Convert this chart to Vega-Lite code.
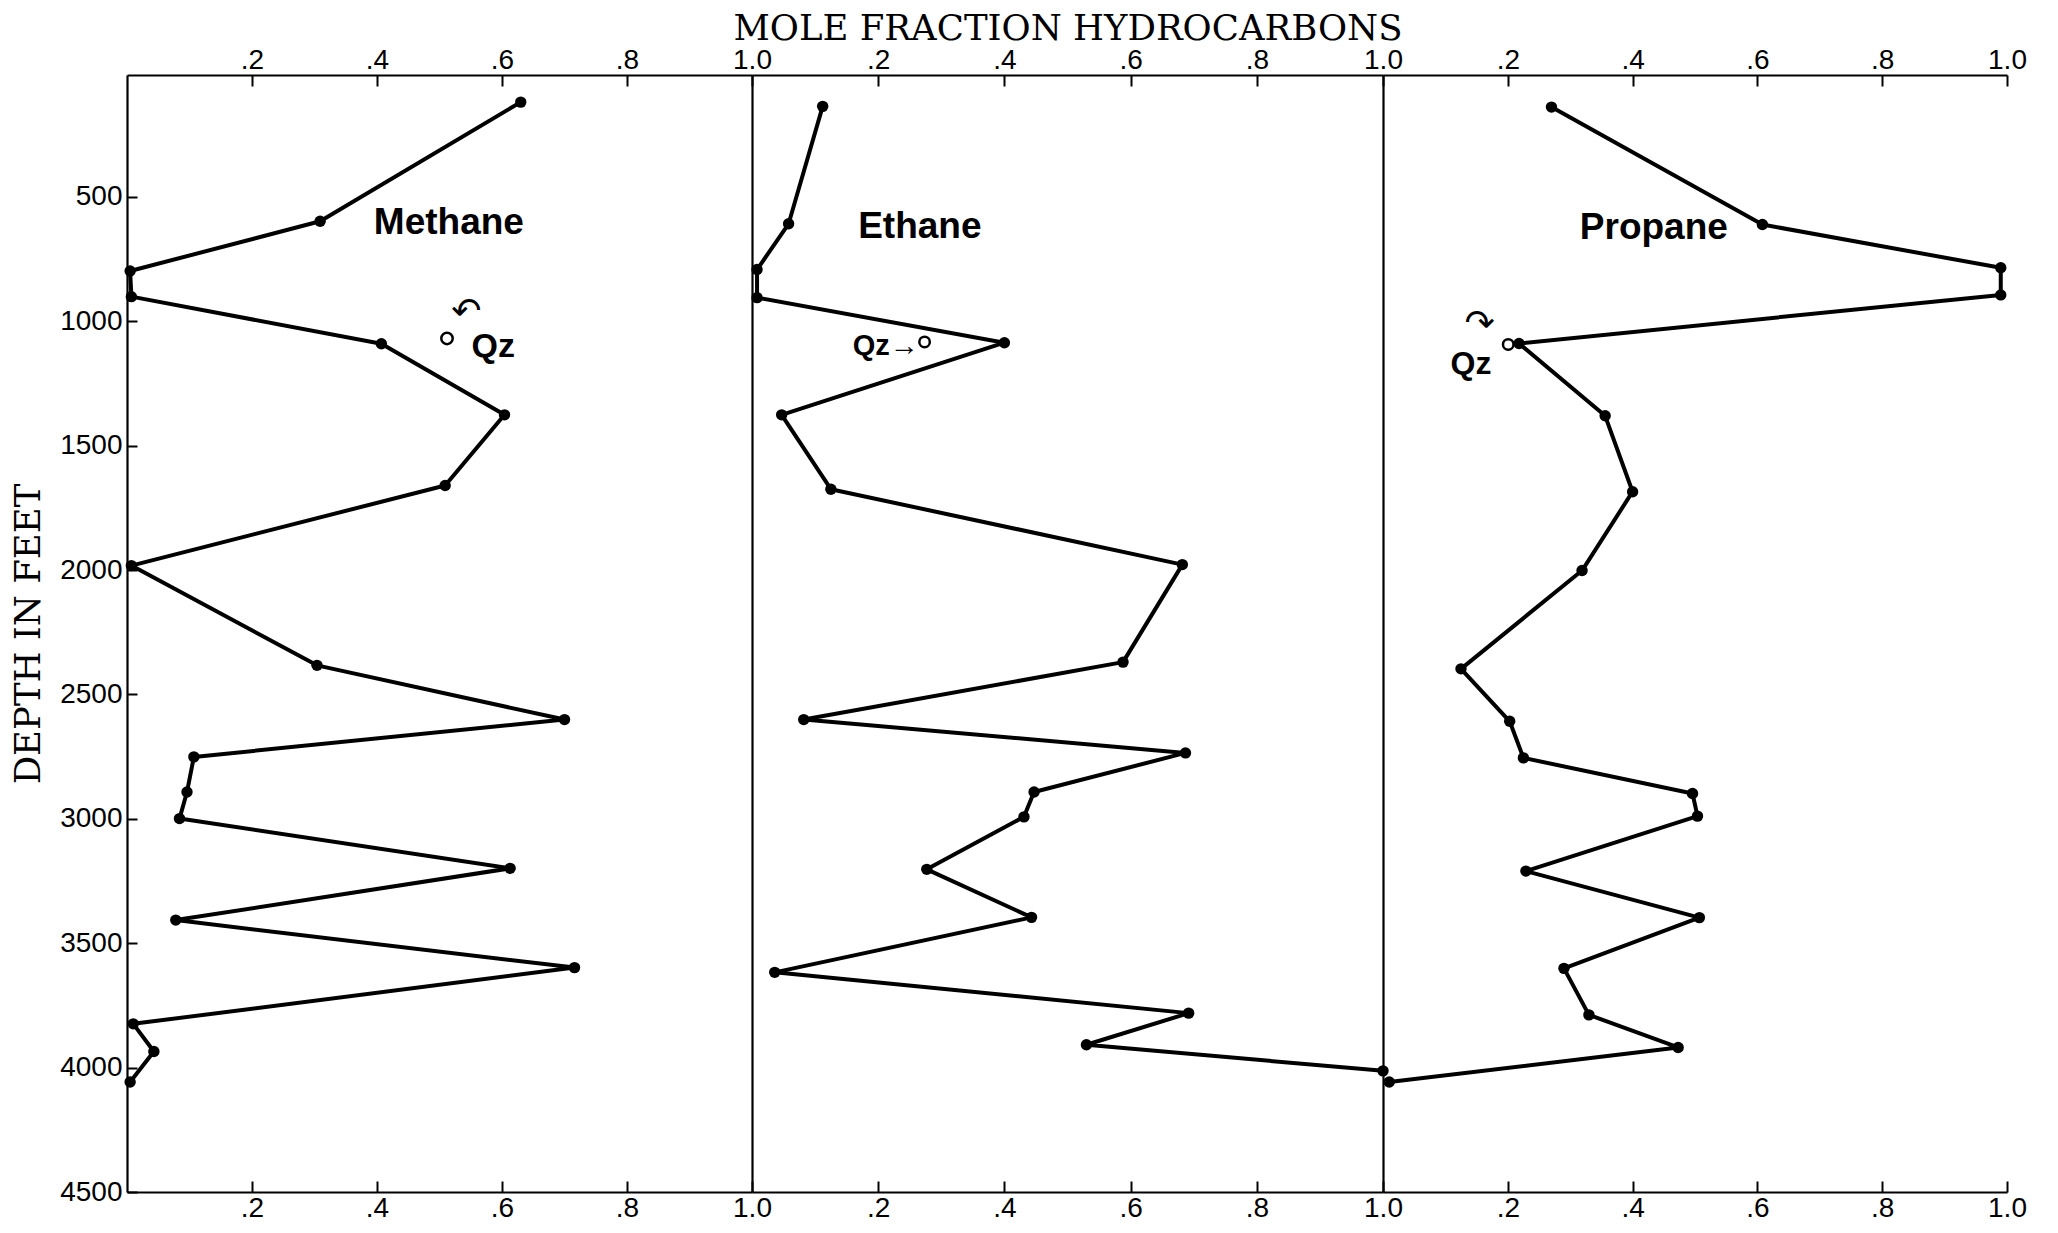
{
  "$schema": "https://vega.github.io/schema/vega-lite/v6.json",
  "background": "white",
  "padding": {"left": 11, "top": 11, "right": 5, "bottom": 0},
  "spacing": 0,
  "bounds": "flush",
  "config": {
    "view": {"stroke": null},
    "axis": {
      "grid": false,
      "domainColor": "black",
      "domainWidth": 2.2,
      "tickColor": "black",
      "tickWidth": 2,
      "labelFont": "Liberation Sans",
      "labelFontSize": 28,
      "labelColor": "black",
      "titleFont": "DejaVu Serif",
      "titleFontSize": 35.5,
      "titleFontWeight": "normal",
      "titleColor": "black"
    }
  },
  "datasets": {
    "profiles": [
      {"gas": "Methane", "fraction": 0.63, "depth": 119},
      {"gas": "Methane", "fraction": 0.309, "depth": 598},
      {"gas": "Methane", "fraction": 0.005, "depth": 798},
      {"gas": "Methane", "fraction": 0.007, "depth": 901},
      {"gas": "Methane", "fraction": 0.407, "depth": 1090},
      {"gas": "Methane", "fraction": 0.604, "depth": 1376},
      {"gas": "Methane", "fraction": 0.509, "depth": 1660},
      {"gas": "Methane", "fraction": 0.007, "depth": 1982},
      {"gas": "Methane", "fraction": 0.304, "depth": 2383},
      {"gas": "Methane", "fraction": 0.70, "depth": 2601},
      {"gas": "Methane", "fraction": 0.107, "depth": 2751},
      {"gas": "Methane", "fraction": 0.096, "depth": 2892},
      {"gas": "Methane", "fraction": 0.084, "depth": 2999},
      {"gas": "Methane", "fraction": 0.613, "depth": 3199},
      {"gas": "Methane", "fraction": 0.078, "depth": 3407},
      {"gas": "Methane", "fraction": 0.716, "depth": 3598},
      {"gas": "Methane", "fraction": 0.01, "depth": 3824},
      {"gas": "Methane", "fraction": 0.043, "depth": 3935},
      {"gas": "Methane", "fraction": 0.005, "depth": 4058},
      {"gas": "Ethane", "fraction": 0.112, "depth": 136},
      {"gas": "Ethane", "fraction": 0.058, "depth": 608},
      {"gas": "Ethane", "fraction": 0.008, "depth": 792},
      {"gas": "Ethane", "fraction": 0.008, "depth": 905},
      {"gas": "Ethane", "fraction": 0.40, "depth": 1086},
      {"gas": "Ethane", "fraction": 0.047, "depth": 1376},
      {"gas": "Ethane", "fraction": 0.125, "depth": 1675},
      {"gas": "Ethane", "fraction": 0.682, "depth": 1978},
      {"gas": "Ethane", "fraction": 0.588, "depth": 2370},
      {"gas": "Ethane", "fraction": 0.082, "depth": 2601},
      {"gas": "Ethane", "fraction": 0.687, "depth": 2735},
      {"gas": "Ethane", "fraction": 0.447, "depth": 2892},
      {"gas": "Ethane", "fraction": 0.431, "depth": 2992},
      {"gas": "Ethane", "fraction": 0.277, "depth": 3203},
      {"gas": "Ethane", "fraction": 0.443, "depth": 3396},
      {"gas": "Ethane", "fraction": 0.036, "depth": 3617},
      {"gas": "Ethane", "fraction": 0.692, "depth": 3781},
      {"gas": "Ethane", "fraction": 0.53, "depth": 3908},
      {"gas": "Ethane", "fraction": 1.0, "depth": 4013},
      {"gas": "Propane", "fraction": 0.27, "depth": 139},
      {"gas": "Propane", "fraction": 0.608, "depth": 611},
      {"gas": "Propane", "fraction": 0.99, "depth": 785},
      {"gas": "Propane", "fraction": 0.99, "depth": 894},
      {"gas": "Propane", "fraction": 0.218, "depth": 1089},
      {"gas": "Propane", "fraction": 0.356, "depth": 1380},
      {"gas": "Propane", "fraction": 0.40, "depth": 1685},
      {"gas": "Propane", "fraction": 0.319, "depth": 2002},
      {"gas": "Propane", "fraction": 0.125, "depth": 2397},
      {"gas": "Propane", "fraction": 0.203, "depth": 2608},
      {"gas": "Propane", "fraction": 0.225, "depth": 2755},
      {"gas": "Propane", "fraction": 0.496, "depth": 2898},
      {"gas": "Propane", "fraction": 0.504, "depth": 2989},
      {"gas": "Propane", "fraction": 0.229, "depth": 3210},
      {"gas": "Propane", "fraction": 0.507, "depth": 3397},
      {"gas": "Propane", "fraction": 0.29, "depth": 3601},
      {"gas": "Propane", "fraction": 0.33, "depth": 3788},
      {"gas": "Propane", "fraction": 0.473, "depth": 3919},
      {"gas": "Propane", "fraction": 0.01, "depth": 4058}
    ],
    "qz": [
      {"gas": "Methane", "fraction": 0.512, "depth": 1069},
      {"gas": "Ethane", "fraction": 0.2735, "depth": 1083},
      {"gas": "Propane", "fraction": 0.2007, "depth": 1093}
    ],
    "notes": [
      {"gas": "Methane", "kind": "name", "label": "Methane", "fraction": 0.515, "depth": 604},
      {"gas": "Methane", "kind": "qz", "label": "Qz", "fraction": 0.586, "depth": 1104},
      {"gas": "Methane", "kind": "arrow", "label": "↶", "fraction": 0.543, "depth": 962},
      {"gas": "Ethane", "kind": "name", "label": "Ethane", "fraction": 0.266, "depth": 622},
      {"gas": "Ethane", "kind": "qz", "label": "Qz→", "fraction": 0.212, "depth": 1098},
      {"gas": "Propane", "kind": "name", "label": "Propane", "fraction": 0.434, "depth": 626},
      {"gas": "Propane", "kind": "qz", "label": "Qz", "fraction": 0.141, "depth": 1170},
      {"gas": "Propane", "kind": "arrow", "label": "↷", "fraction": 0.155, "depth": 1012}
    ]
  },
  "hconcat": [
    {
      "width": 625,
      "height": 1117,
      "encoding": {
        "y": {"field": "depth", "type": "quantitative", "scale": {"domain": [10, 4500], "nice": false, "zero": false, "reverse": true},
          "axis": {"orient": "left", "values": [500, 1000, 1500, 2000, 2500, 3000, 3500, 4000, 4500], "format": "d", "title": "DEPTH IN FEET", "titlePadding": 13, "tickSize": -10, "labelPadding": 15, "labelOverlap": false, "labelBound": false, "labelFlush": false}}
      },
      "layer": [
        {
          "data": {"name": "profiles"},
          "transform": [{"filter": "datum.gas === 'Methane'"}],
          "mark": {"type": "line", "color": "black", "strokeWidth": 4, "strokeJoin": "round", "point": {"filled": true, "color": "black", "size": 130, "opacity": 1}},
          "encoding": {
            "x": {"field": "fraction", "type": "quantitative", "scale": {"domain": [0, 1], "nice": false, "zero": false},
              "axis": {"orient": "bottom", "values": [0.2, 0.4, 0.6, 0.8, 1], "labelExpr": "datum.value >= 0.99 ? '1.0' : replace(format(datum.value, '.1f'), '0.', '.')", "title": null, "tickSize": -11, "labelPadding": 13, "labelFlush": false, "labelOverlap": false, "labelBound": false}},
            "order": {"field": "depth", "type": "quantitative"}
          }
        },
        {
          "data": {"name": "qz"},
          "transform": [{"filter": "datum.gas === 'Methane'"}],
          "mark": {"type": "point", "shape": "circle", "filled": false, "stroke": "black", "strokeWidth": 2.5, "size": 130, "opacity": 1},
          "encoding": {
            "x": {"field": "fraction", "type": "quantitative", "scale": {"domain": [0, 1], "nice": false, "zero": false},
              "axis": {"orient": "top", "values": [0.2, 0.4, 0.6, 0.8, 1], "labelExpr": "datum.value >= 0.99 ? '1.0' : replace(format(datum.value, '.1f'), '0.', '.')", "title": null, "tickSize": -11, "labelPadding": 12, "labelFlush": false, "labelOverlap": false, "labelBound": false}}
          }
        },
        {
          "data": {"name": "notes"},
          "transform": [{"filter": "datum.gas === 'Methane' && datum.kind === 'name'"}],
          "mark": {"type": "text", "font": "Liberation Sans", "fontWeight": "bold", "fontSize": 37, "color": "black", "align": "center", "baseline": "middle"},
          "encoding": {
            "x": {"field": "fraction", "type": "quantitative", "scale": {"domain": [0, 1], "nice": false, "zero": false}, "axis": null},
            "text": {"field": "label"}
          }
        },
        {
          "data": {"name": "notes"},
          "transform": [{"filter": "datum.gas === 'Methane' && datum.kind === 'qz'"}],
          "mark": {"type": "text", "font": "Liberation Sans", "fontWeight": "bold", "fontSize": 34, "color": "black", "align": "center", "baseline": "middle"},
          "encoding": {
            "x": {"field": "fraction", "type": "quantitative", "scale": {"domain": [0, 1], "nice": false, "zero": false}, "axis": null},
            "text": {"field": "label"}
          }
        },
        {
          "data": {"name": "notes"},
          "transform": [{"filter": "datum.gas === 'Methane' && datum.kind === 'arrow'"}],
          "mark": {"type": "text", "font": "DejaVu Sans", "fontSize": 36, "color": "black", "align": "center", "baseline": "middle"},
          "encoding": {
            "x": {"field": "fraction", "type": "quantitative", "scale": {"domain": [0, 1], "nice": false, "zero": false}, "axis": null},
            "text": {"field": "label"}
          }
        }
      ]
    },
    {
      "width": 631,
      "height": 1117,
      "encoding": {
        "y": {"field": "depth", "type": "quantitative", "scale": {"domain": [10, 4500], "nice": false, "zero": false, "reverse": true},
          "axis": {"orient": "left", "labels": false, "ticks": false, "title": null}}
      },
      "layer": [
        {
          "data": {"name": "profiles"},
          "transform": [{"filter": "datum.gas === 'Ethane'"}],
          "mark": {"type": "line", "color": "black", "strokeWidth": 4, "strokeJoin": "round", "point": {"filled": true, "color": "black", "size": 130, "opacity": 1}},
          "encoding": {
            "x": {"field": "fraction", "type": "quantitative", "scale": {"domain": [0, 1], "nice": false, "zero": false},
              "axis": {"orient": "bottom", "values": [0.2, 0.4, 0.6, 0.8, 1], "labelExpr": "datum.value >= 0.99 ? '1.0' : replace(format(datum.value, '.1f'), '0.', '.')", "title": null, "tickSize": -11, "labelPadding": 13, "labelFlush": false, "labelOverlap": false, "labelBound": false}},
            "order": {"field": "depth", "type": "quantitative"}
          }
        },
        {
          "data": {"name": "qz"},
          "transform": [{"filter": "datum.gas === 'Ethane'"}],
          "mark": {"type": "point", "shape": "circle", "filled": false, "stroke": "black", "strokeWidth": 2.5, "size": 110, "opacity": 1},
          "encoding": {
            "x": {"field": "fraction", "type": "quantitative", "scale": {"domain": [0, 1], "nice": false, "zero": false},
              "axis": {"orient": "top", "values": [0.2, 0.4, 0.6, 0.8, 1], "labelExpr": "datum.value >= 0.99 ? '1.0' : replace(format(datum.value, '.1f'), '0.', '.')", "title": "MOLE FRACTION HYDROCARBONS", "titlePadding": 0, "tickSize": -11, "labelPadding": 12, "labelFlush": false, "labelOverlap": false, "labelBound": false}}
          }
        },
        {
          "data": {"name": "notes"},
          "transform": [{"filter": "datum.gas === 'Ethane' && datum.kind === 'name'"}],
          "mark": {"type": "text", "font": "Liberation Sans", "fontWeight": "bold", "fontSize": 37, "color": "black", "align": "center", "baseline": "middle"},
          "encoding": {
            "x": {"field": "fraction", "type": "quantitative", "scale": {"domain": [0, 1], "nice": false, "zero": false}, "axis": null},
            "text": {"field": "label"}
          }
        },
        {
          "data": {"name": "notes"},
          "transform": [{"filter": "datum.gas === 'Ethane' && datum.kind === 'qz'"}],
          "mark": {"type": "text", "font": "Liberation Sans", "fontWeight": "bold", "fontSize": 29, "color": "black", "align": "center", "baseline": "middle"},
          "encoding": {
            "x": {"field": "fraction", "type": "quantitative", "scale": {"domain": [0, 1], "nice": false, "zero": false}, "axis": null},
            "text": {"field": "label"}
          }
        }
      ]
    },
    {
      "width": 624,
      "height": 1117,
      "encoding": {
        "y": {"field": "depth", "type": "quantitative", "scale": {"domain": [10, 4500], "nice": false, "zero": false, "reverse": true},
          "axis": {"orient": "left", "labels": false, "ticks": false, "title": null}}
      },
      "layer": [
        {
          "data": {"name": "profiles"},
          "transform": [{"filter": "datum.gas === 'Propane'"}],
          "mark": {"type": "line", "color": "black", "strokeWidth": 4, "strokeJoin": "round", "point": {"filled": true, "color": "black", "size": 130, "opacity": 1}},
          "encoding": {
            "x": {"field": "fraction", "type": "quantitative", "scale": {"domain": [0, 1], "nice": false, "zero": false},
              "axis": {"orient": "bottom", "values": [0.2, 0.4, 0.6, 0.8, 1], "labelExpr": "datum.value >= 0.99 ? '1.0' : replace(format(datum.value, '.1f'), '0.', '.')", "title": null, "tickSize": -11, "labelPadding": 13, "labelFlush": false, "labelOverlap": false, "labelBound": false}},
            "order": {"field": "depth", "type": "quantitative"}
          }
        },
        {
          "data": {"name": "qz"},
          "transform": [{"filter": "datum.gas === 'Propane'"}],
          "mark": {"type": "point", "shape": "circle", "filled": false, "stroke": "black", "strokeWidth": 2.5, "size": 110, "opacity": 1},
          "encoding": {
            "x": {"field": "fraction", "type": "quantitative", "scale": {"domain": [0, 1], "nice": false, "zero": false},
              "axis": {"orient": "top", "values": [0.2, 0.4, 0.6, 0.8, 1], "labelExpr": "datum.value >= 0.99 ? '1.0' : replace(format(datum.value, '.1f'), '0.', '.')", "title": null, "tickSize": -11, "labelPadding": 12, "labelFlush": false, "labelOverlap": false, "labelBound": false}}
          }
        },
        {
          "data": {"name": "notes"},
          "transform": [{"filter": "datum.gas === 'Propane' && datum.kind === 'name'"}],
          "mark": {"type": "text", "font": "Liberation Sans", "fontWeight": "bold", "fontSize": 37, "color": "black", "align": "center", "baseline": "middle"},
          "encoding": {
            "x": {"field": "fraction", "type": "quantitative", "scale": {"domain": [0, 1], "nice": false, "zero": false}, "axis": null},
            "text": {"field": "label"}
          }
        },
        {
          "data": {"name": "notes"},
          "transform": [{"filter": "datum.gas === 'Propane' && datum.kind === 'qz'"}],
          "mark": {"type": "text", "font": "Liberation Sans", "fontWeight": "bold", "fontSize": 32, "color": "black", "align": "center", "baseline": "middle"},
          "encoding": {
            "x": {"field": "fraction", "type": "quantitative", "scale": {"domain": [0, 1], "nice": false, "zero": false}, "axis": null},
            "text": {"field": "label"}
          }
        },
        {
          "data": {"name": "notes"},
          "transform": [{"filter": "datum.gas === 'Propane' && datum.kind === 'arrow'"}],
          "mark": {"type": "text", "font": "DejaVu Sans", "fontSize": 36, "color": "black", "align": "center", "baseline": "middle"},
          "encoding": {
            "x": {"field": "fraction", "type": "quantitative", "scale": {"domain": [0, 1], "nice": false, "zero": false}, "axis": null},
            "text": {"field": "label"}
          }
        }
      ]
    }
  ]
}
